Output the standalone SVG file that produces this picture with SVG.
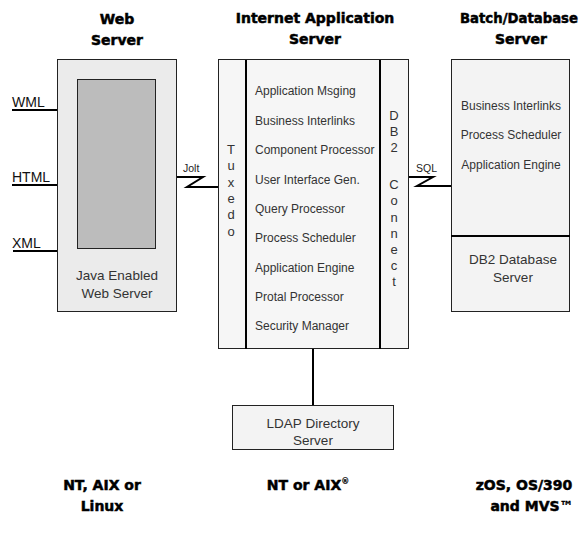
<svg xmlns="http://www.w3.org/2000/svg" width="584" height="534" viewBox="0 0 584 534">
<style>
.t{font-family:"Liberation Sans",Arial,sans-serif;font-size:12px;fill:#333}
.b{font-family:"Liberation Sans",Arial,sans-serif;font-size:13.5px;fill:#333}
.v{font-family:"Liberation Sans",Arial,sans-serif;font-size:13px;fill:#333;text-anchor:middle}
.s{font-family:"Liberation Sans",Arial,sans-serif;font-size:10.5px;fill:#222}
.l{font-family:"Liberation Sans",Arial,sans-serif;font-size:14px;fill:#111}
.h{font-family:"DejaVu Sans","Liberation Sans",sans-serif;font-size:14px;font-weight:bold;fill:#000;stroke:#000;stroke-width:0.5;text-anchor:middle}
.box{stroke:#222;stroke-width:1}
.c{fill:none;stroke:#000;stroke-width:2}
.m{text-anchor:middle}
</style>
<rect width="584" height="534" fill="#fff"/>
<g id="titles">
<text class="h" x="117" y="24">Web</text>
<text class="h" x="117" y="45">Server</text>
<text class="h" x="315" y="23">Internet Application</text>
<text class="h" x="315" y="44">Server</text>
<text class="h" x="519" y="23" textLength="118" lengthAdjust="spacingAndGlyphs">Batch/Database</text>
<text class="h" x="521" y="44">Server</text>
<text class="h" x="102" y="490">NT, AIX or</text>
<text class="h" x="102" y="511">Linux</text>
<text class="h" x="308" y="490">NT or AIX<tspan font-size="8" dy="-6" stroke-width="0.2">®</tspan></text>
<text class="h" x="524" y="490">zOS, OS/390</text>
<text class="h" x="532" y="511">and MVS<tspan stroke-width="0.2">™</tspan></text>
</g>
<g id="connectors">
<path class="c" d="M12,110H57M12,185H57M13,251H57"/>
<path class="c" d="M177,177H203L187,187H218"/>
<path class="c" d="M409,177H433L417,186H451"/>
<path class="c" d="M313,349V405"/>
<text class="l" x="12" y="107">WML</text>
<text class="l" x="12" y="182">HTML</text>
<text class="l" x="12" y="248">XML</text>
<text class="s" x="183" y="172">Jolt</text>
<text class="s" x="416" y="172">SQL</text>
</g>
<g id="web-server">
<rect class="box" x="57.5" y="59.5" width="119" height="252" fill="#ebebeb"/>
<rect class="box" x="77.5" y="79.5" width="78" height="169" fill="#bcbcbc"/>
<text class="b m" x="117" y="280">Java Enabled</text>
<text class="b m" x="117" y="298">Web Server</text>
</g>
<g id="app-server">
<rect class="box" x="218.5" y="59.5" width="190" height="289" fill="#f6f6f6"/>
<path d="M246,60V349M380,60V349" stroke="#000" stroke-width="2"/>
<g class="v">
<text x="231" y="154">T</text><text x="231" y="170">u</text><text x="231" y="187">x</text><text x="231" y="203">e</text><text x="231" y="219">d</text><text x="231" y="236">o</text>
<text x="394" y="120">D</text><text x="394" y="136">B</text><text x="394" y="152">2</text>
<text x="394" y="189">C</text><text x="394" y="205">o</text><text x="394" y="222">n</text><text x="394" y="238">n</text><text x="394" y="254">e</text><text x="394" y="270">c</text><text x="394" y="286">t</text>
</g>
<g class="t">
<text x="255" y="95">Application Msging</text>
<text x="255" y="125">Business Interlinks</text>
<text x="255" y="154">Component Processor</text>
<text x="255" y="184">User Interface Gen.</text>
<text x="255" y="213">Query Processor</text>
<text x="255" y="242">Process Scheduler</text>
<text x="255" y="272">Application Engine</text>
<text x="255" y="301">Protal Processor</text>
<text x="255" y="330">Security Manager</text>
</g>
</g>
<g id="batch-server">
<rect class="box" x="451.5" y="59.5" width="118" height="252" fill="#f3f3f3"/>
<path d="M451,236H570" stroke="#000" stroke-width="2"/>
<text class="t m" x="511" y="110">Business Interlinks</text>
<text class="t m" x="511" y="139">Process Scheduler</text>
<text class="t m" x="511" y="169">Application Engine</text>
<text class="b m" x="513" y="264">DB2 Database</text>
<text class="b m" x="513" y="282">Server</text>
</g>
<g id="ldap">
<rect class="box" x="232.5" y="405.5" width="161" height="44" fill="#f3f3f3"/>
<text class="b m" x="313" y="428">LDAP Directory</text>
<text class="b m" x="313" y="445">Server</text>
</g>
</svg>
